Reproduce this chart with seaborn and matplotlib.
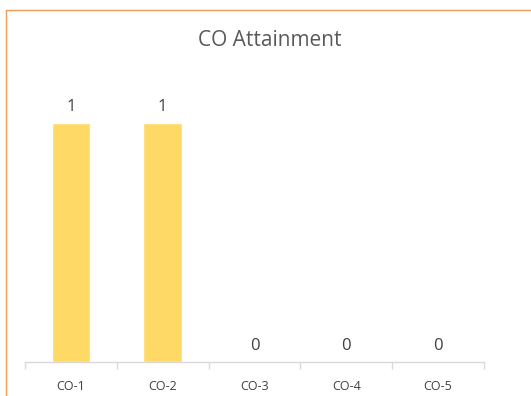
import matplotlib
matplotlib.use("Agg")
import matplotlib.pyplot as plt
from matplotlib.lines import Line2D
import seaborn as sns
import pandas as pd

categories = ["CO-1", "CO-2", "CO-3", "CO-4", "CO-5"]
attainment = [1, 1, 0, 0, 0]

sns.set_theme(style="white")
plt.rcParams["font.family"] = ["Open Sans", "DejaVu Sans"]

title_color = "#595959"
label_color = "#404040"
bar_color = "#FFD966"
axis_color = "#D9D9D9"
frame_color = "#F39A55"

df = pd.DataFrame({"category": categories, "value": attainment})

fig = plt.figure(figsize=(5.31, 3.96), dpi=100)
fig.patch.set_facecolor("white")
ax = fig.add_axes([25 / 531, 34 / 396, 459 / 531, 239 / 396])

sns.barplot(data=df, x="category", y="value", color=bar_color,
            width=0.42, saturation=1, ax=ax)

ax.set_xlim(-0.5, len(categories) - 0.5)
ax.set_ylim(0, 1)
ax.set_xlabel("")
ax.set_ylabel("")
ax.set_yticks([])

for s in ["top", "right", "left"]:
    ax.spines[s].set_visible(False)
ax.spines["bottom"].set_color(axis_color)
ax.spines["bottom"].set_linewidth(1.0)

ax.tick_params(axis="x", which="both", bottom=True)
ax.tick_params(axis="x", which="major", length=0, pad=13,
               labelsize=9, labelcolor=label_color)
ax.set_xticks([i - 0.5 for i in range(len(categories) + 1)], minor=True)
ax.tick_params(axis="x", which="minor", length=5, color=axis_color, width=1.0)

for i, v in enumerate(attainment):
    ax.annotate(f"{v}", xy=(i, v), xytext=(0, 6), textcoords="offset points",
                ha="center", va="bottom", fontsize=12, color=label_color,
                annotation_clip=False)

fig.text(270 / 531, 1 - 40 / 396, "CO Attainment", ha="center", va="center",
         fontsize=15, color=title_color)

# chart-area border along the top and left edges
fig.add_artist(Line2D([6 / 531, 1.0], [1 - 10 / 396, 1 - 10 / 396],
                      transform=fig.transFigure, color=frame_color, lw=1.0))
fig.add_artist(Line2D([6 / 531, 6 / 531], [0, 1 - 10 / 396],
                      transform=fig.transFigure, color=frame_color, lw=1.0))

fig.savefig("out.png", dpi=100, facecolor="white")
